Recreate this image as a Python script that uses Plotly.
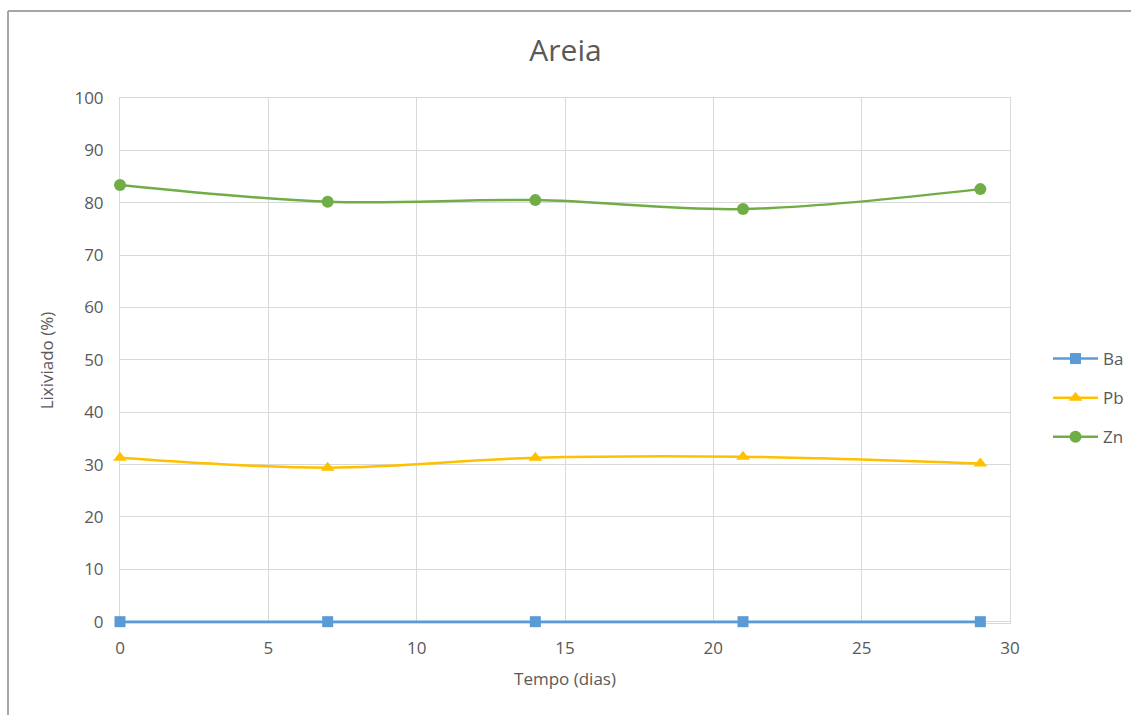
import plotly.graph_objects as go

# Leaching data (%) over time (days)
dias = [0, 7, 14, 21, 29]
ba = [0, 0, 0, 0, 0]
pb = [31.3, 29.4, 31.3, 31.5, 30.2]
zn = [83.4, 80.2, 80.5, 78.8, 82.6]

x_ticks = [0, 5, 10, 15, 20, 25, 30]
y_ticks = [0, 10, 20, 30, 40, 50, 60, 70, 80, 90, 100]

FONT = "Open Sans"
TXT = "#595959"
GRID = "#d9d9d9"

W, H = 1131, 715
ML, MR, MT, MB = 120, 121, 98, 92
PW, PH = W - ML - MR, H - MT - MB


def px_x(px):
    return (px - ML) / PW


def px_y(py):
    return (H - MB - py) / PH


fig = go.Figure()
series = [
    ("Ba", ba, "#5b9bd5", "square", 11),
    ("Pb", pb, "#ffc000", "triangle-up", 12),
    ("Zn", zn, "#70ad47", "circle", 12),
]
for name, vals, color, sym, size in series:
    fig.add_trace(go.Scatter(
        x=dias, y=vals, name=name, mode="lines+markers",
        line=dict(color=color, width=2.5, shape="spline", smoothing=1.0),
        marker=dict(symbol=sym, size=size, color=color),
        legendgroup=name,
        cliponaxis=False,
    ))

axis_common = dict(
    showgrid=True, gridcolor=GRID, gridwidth=1,
    showline=True, linecolor=GRID, linewidth=1, mirror=True,
    zeroline=False, ticks="", layer="below traces",
    tickfont=dict(family=FONT, size=17, color=TXT),
)

fig.update_xaxes(
    range=[0, 30], tickvals=x_ticks, ticktext=[str(v) for v in x_ticks],
    ticklabelstandoff=10,
    title=dict(text="Tempo (dias)", font=dict(family=FONT, size=17, color=TXT), standoff=14),
    **axis_common,
)
# small pad below zero so the Ba line at 0 is not clipped by the plot area
fig.update_yaxes(
    range=[-0.25, 100], tickvals=y_ticks, ticktext=[str(v) for v in y_ticks],
    ticklabelstandoff=12,
    title=dict(text="Lixiviado (%)", font=dict(family=FONT, size=17, color=TXT), standoff=16),
    **axis_common,
)

# outer frame (top and left edges)
frame = dict(color="#a6a6a6", width=2)
fig.add_shape(type="line", xref="paper", yref="paper",
              x0=px_x(8), x1=px_x(1135), y0=px_y(11), y1=px_y(11), line=frame)
fig.add_shape(type="line", xref="paper", yref="paper",
              x0=px_x(8), x1=px_x(8), y0=px_y(11), y1=px_y(720), line=frame)

fig.update_layout(
    width=W, height=H,
    margin=dict(l=ML, r=MR, t=MT, b=MB, autoexpand=False),
    paper_bgcolor="white", plot_bgcolor="white",
    title=dict(text="Areia", x=0.5, xanchor="center", y=1 - 50 / H, yanchor="middle",
               font=dict(family=FONT, size=30, color=TXT)),
    legend=dict(x=px_x(1048), xanchor="left", y=px_y(398), yanchor="middle",
                font=dict(family=FONT, size=17, color=TXT),
                itemwidth=45, tracegroupgap=14, bgcolor="rgba(0,0,0,0)"),
    showlegend=True,
)

fig.write_html("out.html")
